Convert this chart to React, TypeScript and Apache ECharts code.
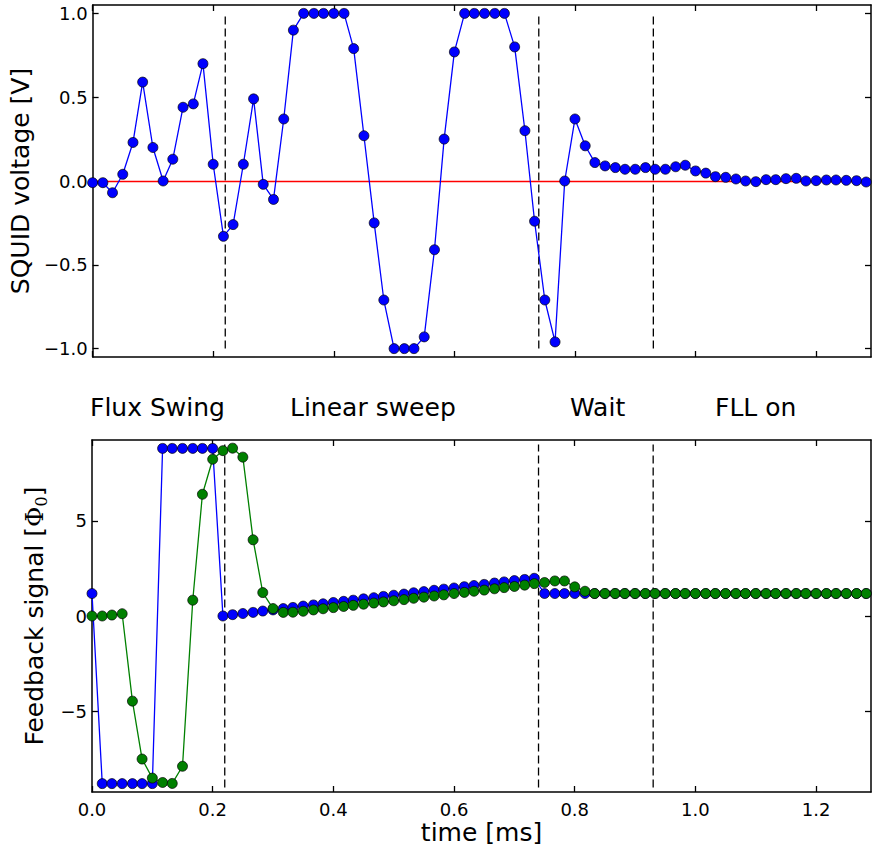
import React, { useEffect, useRef } from "react";
import * as echarts from "echarts";

// Sample times (ms)
const TIME_MS = [
  0, 0.017, 0.033, 0.05, 0.067, 0.083, 0.1, 0.117, 0.133, 0.15, 0.167, 0.183,
  0.2, 0.217, 0.233, 0.25, 0.267, 0.283, 0.3, 0.317, 0.333, 0.35, 0.367, 0.383,
  0.4, 0.417, 0.433, 0.45, 0.467, 0.483, 0.5, 0.517, 0.533, 0.55, 0.567, 0.583,
  0.6, 0.617, 0.633, 0.65, 0.667, 0.683, 0.7, 0.717, 0.733, 0.75, 0.767, 0.783,
  0.8, 0.817, 0.833, 0.85, 0.867, 0.883, 0.9, 0.917, 0.933, 0.95, 0.967, 0.983,
  1.0, 1.017, 1.033, 1.05, 1.067, 1.083, 1.1, 1.117, 1.133, 1.15, 1.167, 1.183,
  1.2, 1.217, 1.233, 1.25, 1.267, 1.283,
];

// SQUID voltage (V)
const SQUID_V = [
  -0.01, -0.01, -0.07, 0.04, 0.23, 0.59, 0.2, 0.0, 0.13, 0.44, 0.46, 0.7,
  0.1, -0.33, -0.26, 0.1, 0.49, -0.02, -0.11, 0.37, 0.9, 1.0, 1.0, 1.0,
  1.0, 1.0, 0.79, 0.27, -0.25, -0.71, -1.0, -1.0, -1.0, -0.93, -0.41, 0.25,
  0.77, 1.0, 1.0, 1.0, 1.0, 1.0, 0.8, 0.3, -0.24, -0.71, -0.96, 0.0,
  0.37, 0.21, 0.11, 0.09, 0.08, 0.07, 0.07, 0.08, 0.07, 0.07, 0.085, 0.094,
  0.06, 0.047, 0.026, 0.022, 0.012, 0.0, -0.004, 0.008, 0.008, 0.014, 0.016, 0.0,
  0.002, 0.006, 0.006, 0.004, 0.002, -0.006,
];

// Feedback signal, blue trace (Phi_0)
const FEEDBACK_BLUE = [
  1.18, -8.8, -8.8, -8.8, -8.8, -8.8, -8.8, 8.8, 8.8, 8.8, 8.8, 8.8,
  8.8, 0.0, 0.07, 0.13, 0.19, 0.26, 0.32, 0.39, 0.45, 0.52, 0.58, 0.64,
  0.71, 0.77, 0.83, 0.9, 0.96, 1.03, 1.09, 1.15, 1.22, 1.28, 1.35, 1.41,
  1.47, 1.54, 1.6, 1.66, 1.73, 1.79, 1.86, 1.92, 1.98, 1.18, 1.18, 1.18,
  1.18, 1.18, 1.18, 1.18, 1.18, 1.18, 1.18, 1.18, 1.18, 1.18, 1.18, 1.18,
  1.18, 1.18, 1.18, 1.18, 1.18, 1.18, 1.18, 1.18, 1.18, 1.18, 1.18, 1.18,
  1.18, 1.18, 1.18, 1.18, 1.18, 1.18,
];

// Feedback signal, green trace (Phi_0)
const FEEDBACK_GREEN = [
  0.0, 0.0, 0.05, 0.12, -4.47, -7.51, -8.51, -8.74, -8.79, -7.89, 0.83, 6.39,
  8.23, 8.68, 8.81, 8.34, 4.0, 1.23, 0.39, 0.19, 0.2, 0.25, 0.32, 0.38,
  0.44, 0.5, 0.56, 0.62, 0.68, 0.74, 0.8, 0.86, 0.93, 0.99, 1.05, 1.11,
  1.18, 1.24, 1.3, 1.36, 1.43, 1.49, 1.55, 1.62, 1.7, 1.76, 1.84, 1.84,
  1.53, 1.3, 1.18, 1.18, 1.18, 1.18, 1.18, 1.18, 1.18, 1.18, 1.18, 1.18,
  1.18, 1.18, 1.18, 1.18, 1.18, 1.18, 1.18, 1.18, 1.18, 1.18, 1.18, 1.18,
  1.18, 1.18, 1.18, 1.18, 1.18, 1.18,
];

const PHASE_BOUNDARIES_MS = [0.22, 0.74, 0.93];
const PHASE_LABELS = ["Flux Swing", "Linear sweep", "Wait", "FLL on"];
const X_TICKS = [0, 0.2, 0.4, 0.6, 0.8, 1.0, 1.2];
const SQUID_TICKS = [-1, -0.5, 0, 0.5, 1];
const FEEDBACK_TICKS = [-5, 0, 5];
const X_RANGE = [0, 1.291];
const SQUID_RANGE = [-1.05, 1.05];
const FEEDBACK_RANGE = [-9.24, 9.24];
const SQUID_VLINE_SPAN = [-1, 1];
const FEEDBACK_VLINE_SPAN = [-9, 9];

const FONT = "DejaVu Sans";
const LABEL_X = [90, 290, 570, 715];

function fmt(v: number, d: number) {
  return v.toFixed(d).replace("-", "\u2212");
}

export default function App() {
  const ref = useRef<HTMLDivElement>(null);
  useEffect(() => {
    if (!ref.current) return;
    const chart = echarts.init(ref.current, null, { renderer: "svg" });

    const axisLine = { show: true, onZero: false, lineStyle: { color: "#000", width: 1.5 } };
    const tick = (vals: number[]) => ({
      show: true,
      inside: true,
      length: 6,
      customValues: vals,
      lineStyle: { color: "#000", width: 1.3 },
    });
    const noLabel = { show: false };

    const xAxisFor = (grid: number, pos: string, showLabels: boolean, name?: string) => ({
      type: "value",
      gridIndex: grid,
      position: pos,
      min: X_RANGE[0],
      max: X_RANGE[1],
      axisLine,
      axisTick: tick(X_TICKS),
      splitLine: { show: false },
      axisLabel: showLabels
        ? {
            show: true,
            customValues: X_TICKS,
            formatter: (v: number) => fmt(v, 1),
            color: "#000",
            fontSize: 18,
            fontFamily: FONT,
            margin: 8,
          }
        : noLabel,
      name: name || "",
      nameLocation: "middle",
      nameGap: 28,
      nameTextStyle: { fontSize: 25, fontFamily: FONT, color: "#000" },
    });

    const yAxisFor = (
      grid: number,
      pos: string,
      range: number[],
      ticks: number[],
      digits: number,
      showLabels: boolean,
      name?: any,
      gap?: number,
      nameStyle?: any
    ) => ({
      type: "value",
      gridIndex: grid,
      position: pos,
      min: range[0],
      max: range[1],
      axisLine,
      axisTick: tick(ticks),
      splitLine: { show: false },
      axisLabel: showLabels
        ? {
            show: true,
            customValues: ticks,
            formatter: (v: number) => fmt(v, digits),
            color: "#000",
            fontSize: 18,
            fontFamily: FONT,
            margin: 5,
          }
        : noLabel,
      name: name || "",
      nameLocation: "middle",
      nameRotate: 90,
      nameGap: gap || 0,
      nameTextStyle: nameStyle || { fontSize: 25, fontFamily: FONT, color: "#000" },
    });

    const vlineSeries = (xi: number, yi: number, span: number[]) =>
      PHASE_BOUNDARIES_MS.map((x) => ({
        type: "line",
        xAxisIndex: xi,
        yAxisIndex: yi,
        data: [
          [x, span[0]],
          [x, span[1]],
        ],
        showSymbol: false,
        symbol: "none",
        silent: true,
        lineStyle: { color: "#000", width: 1.3, type: [8, 4] },
        z: 1,
      }));

    const dataSeries = (xi: number, yi: number, vals: number[], color: string, z: number, extra?: any) => ({
      type: "line",
      xAxisIndex: xi,
      yAxisIndex: yi,
      data: TIME_MS.map((t, i) => [t, vals[i]]),
      symbol: "circle",
      symbolSize: 10,
      showSymbol: true,
      lineStyle: { color, width: 1.3 },
      itemStyle: { color, borderColor: "#000", borderWidth: 0.7 },
      z,
      ...(extra || {}),
    });

    const option: any = {
      animation: false,
      backgroundColor: "#fff",
      textStyle: { fontFamily: FONT },
      grid: [
        { left: 92, top: 5, width: 779, height: 352, containLabel: false },
        { left: 92, top: 440, width: 779, height: 352, containLabel: false },
      ],
      xAxis: [
        xAxisFor(0, "bottom", false),
        xAxisFor(0, "top", false),
        xAxisFor(1, "bottom", true, "time [ms]"),
        xAxisFor(1, "top", false),
      ],
      yAxis: [
        yAxisFor(0, "left", SQUID_RANGE, SQUID_TICKS, 1, true, "SQUID voltage [V]", 56),
        yAxisFor(0, "right", SQUID_RANGE, SQUID_TICKS, 1, false),
        yAxisFor(
          1,
          "left",
          FEEDBACK_RANGE,
          FEEDBACK_TICKS,
          0,
          true,
          "{t|Feedback signal [}{phi|\u03A6}{sub|0}{t|]}",
          40,
          {
            color: "#000",
            fontSize: 25,
            fontFamily: FONT,
            rich: {
              t: { fontSize: 25, fontFamily: FONT, color: "#000", lineHeight: 30 },
              phi: { fontSize: 25, fontFamily: "DejaVu Serif", color: "#000", lineHeight: 30 },
              sub: {
                fontSize: 16,
                fontFamily: "DejaVu Serif",
                color: "#000",
                lineHeight: 16,
                verticalAlign: "bottom",
              },
            },
          }
        ),
        yAxisFor(1, "right", FEEDBACK_RANGE, FEEDBACK_TICKS, 0, false),
      ],
      series: [
        ...vlineSeries(0, 0, SQUID_VLINE_SPAN),
        dataSeries(0, 0, SQUID_V, "#0000ff", 3, {
          markLine: {
            silent: true,
            symbol: "none",
            label: { show: false },
            lineStyle: { color: "#ff0000", width: 1.3, type: "solid" },
            data: [{ yAxis: 0 }],
            z: 2,
          },
        }),
        ...vlineSeries(2, 2, FEEDBACK_VLINE_SPAN),
        dataSeries(2, 2, FEEDBACK_BLUE, "#0000ff", 3),
        dataSeries(2, 2, FEEDBACK_GREEN, "#008000", 4),
      ],
      graphic: PHASE_LABELS.map((txt, i) => ({
        type: "text",
        x: LABEL_X[i],
        y: 407,
        silent: true,
        style: {
          text: txt,
          font: `25px "${FONT}"`,
          fill: "#000",
          align: "left",
          verticalAlign: "middle",
        },
      })),
    };

    chart.setOption(option);
    return () => chart.dispose();
  }, []);

  return (
    <div
      ref={ref}
      style={{ position: "absolute", left: 0, top: 0, width: 872, height: 852, background: "#fff" }}
    />
  );
}
